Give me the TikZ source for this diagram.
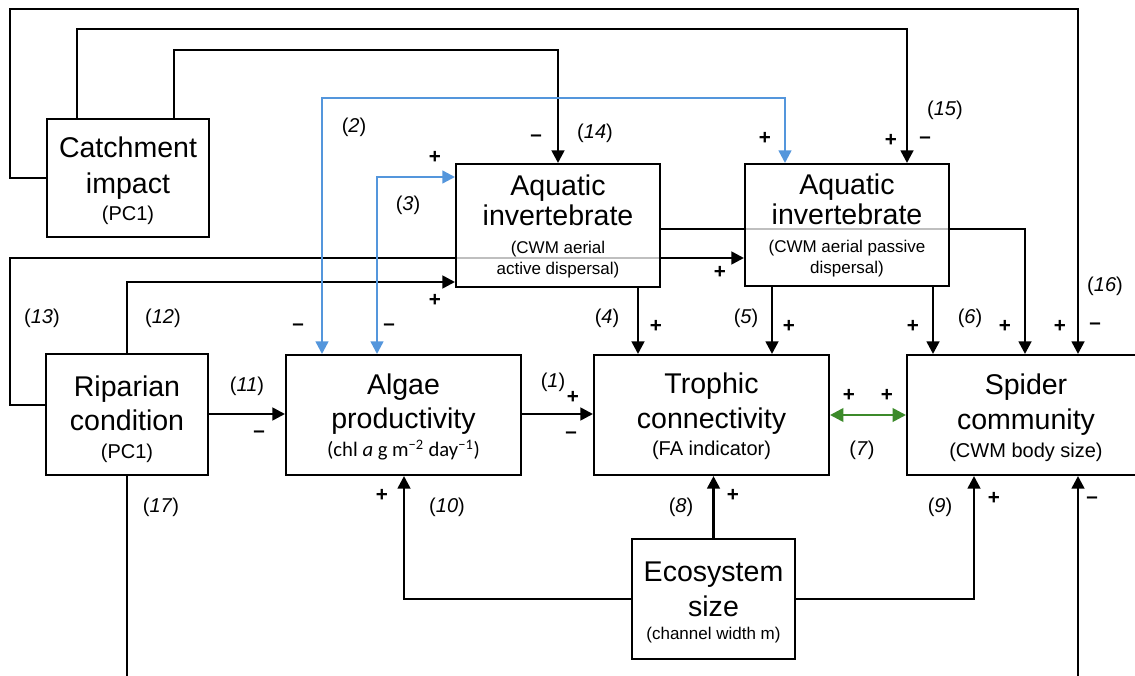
\documentclass[tikz,border=0pt]{standalone}
\usepackage{fontspec}
\setmainfont{Liberation Sans}
\newfontfamily\carl{Carlito}
\usetikzlibrary{arrows.meta,fit}
\pgfdeclarelayer{bg}
\pgfsetlayers{bg,main}
\definecolor{lblue}{RGB}{84,150,220}
\definecolor{lgreen}{RGB}{60,138,42}
\begin{document}
\begin{tikzpicture}[x=0.75pt,y=-0.75pt,
  box/.style={draw, line width=1.5pt, fill=white, fill opacity=0.75, text opacity=1, inner sep=0pt},
  tbig/.style={anchor=base, inner sep=0pt, font=\fontsize{21.4}{25}\selectfont},
  tsub/.style={anchor=base, inner sep=0pt, font=\fontsize{15}{18}\selectfont},
  tsml/.style={anchor=base, inner sep=0pt, font=\fontsize{12.75}{15}\selectfont},
  lab/.style={inner sep=0pt, font=\fontsize{15}{18}\selectfont},
  sgn/.style={inner sep=0pt, font=\fontsize{15.5}{18}\selectfont\bfseries},
  arr/.style={line width=2pt, -{Triangle[length=9.5pt,width=9.5pt]}},
  barr/.style={line width=1.8pt, draw=lblue, {Triangle[length=9.5pt,width=9.5pt]}-{Triangle[length=9.5pt,width=9.5pt]}},
  garr/.style={line width=2pt, draw=lgreen, {Triangle[length=10pt,width=10pt]}-{Triangle[length=10pt,width=10pt]}}
]
\useasboundingbox (0,0) rectangle (1135,675);

% boxes
\node[box, fit={(47,119) (209,237)}] (catch) {};
\node[box, fit={(456,164) (660,287)}] (aq1) {};
\node[box, fit={(745,164) (949,286)}] (aq2) {};
\node[box, fit={(46,354) (208,475)}] (rip) {};
\node[box, fit={(286,355) (521,475)}] (alg) {};
\node[box, fit={(594,355) (829,475)}] (tro) {};
\node[box, fit={(907,355) (1145,475)}] (spi) {};
\node[box, fit={(632,539) (795,659)}] (eco) {};

% texts
\node[tbig] (catch1) at (128,157) {Catchment};
\node[tbig] (catch2) at (128,193) {impact};
\node[tsub] (catch3) at (128,220) {(PC1)};
\node[tbig] (aq1a) at (558,195) {Aquatic};
\node[tbig] (aq1b) at (558,225) {invertebrate};
\node[tsml] (aq1c) at (558,253) {(CWM aerial};
\node[tsml] (aq1d) at (558,274) {active dispersal)};
\node[tbig] (aq2a) at (847,194) {Aquatic};
\node[tbig] (aq2b) at (847,224) {invertebrate};
\node[tsml] (aq2c) at (847,252) {(CWM aerial passive};
\node[tsml] (aq2d) at (847,273) {dispersal)};
\node[tbig] (rip1) at (127,396) {Riparian};
\node[tbig] (rip2) at (127,430) {condition};
\node[tsub] (rip3) at (127,458) {(PC1)};
\node[tbig] (alg1) at (403.5,394) {Algae};
\node[tbig] (alg2) at (403.5,428) {productivity};
\node[anchor=base, inner sep=0pt, font=\carl\fontsize{15.5}{18}\selectfont] (alg3) at (403.5,456) {(chl \textit{a} g m\textsuperscript{−2} day\textsuperscript{−1})};
\node[tbig] (tro1) at (711.5,393) {Trophic};
\node[tbig] (tro2) at (711.5,428) {connectivity};
\node[tsub] (tro3) at (711.5,455) {(FA indicator)};
\node[tbig] (spi1) at (1026,394) {Spider};
\node[tbig] (spi2) at (1026,429) {community};
\node[tsub] (spi3) at (1026,457) {(CWM body size)};
\node[tbig] (eco1) at (713.5,581) {Ecosystem};
\node[tbig] (eco2) at (713.5,616) {size};
\node[tsml] (eco3) at (713.5,639) {(channel width m)};

% lines passing behind the aquatic boxes
\begin{pgfonlayer}{bg}
\draw[arr] (rip.west |- 0,405) -| (10,258) -- (aq2.west |- 0,258);
\draw[arr] (aq1.east |- 0,229) -| (spi.north -| 1025,0);
\end{pgfonlayer}

% black connectors
\draw[arr] (catch.west) -| (10,9) -| (spi.north -| 1078,0);
\draw[arr] (catch.north -| 77,0) |- (907,29) -- (aq2.north -| 907,0);
\draw[arr] (catch.north -| 174,0) |- (558,50) -- (aq1.north);
\draw[arr] (rip.north) |- (aq1.west |- 0,282);
\draw[arr] (rip.east |- 0,414) -- (alg.west |- 0,414);
\draw[arr] (alg.east |- 0,414) -- (tro.west |- 0,414);
\draw[arr] (aq1.south -| 638,0) -- (tro.north -| 638,0);
\draw[arr] (aq2.south -| 772,0) -- (tro.north -| 772,0);
\draw[arr] (aq2.south -| 933,0) -- (spi.north -| 933,0);
\draw[arr] (eco.north) -- (tro.south -| eco.north);
\draw[arr] (eco.east) -| (spi.south -| 974,0);
\draw[arr] (eco.west) -| (alg.south -| 404,0);
\begin{scope}
\clip (0,0) rectangle (1135,675);
\draw[arr] (rip.south) -- (127,700) -| (spi.south -| 1078,0);
\end{scope}

% blue connectors
\draw[barr] (alg.north -| 322,0) |- (785,98) -- (aq2.north -| 785,0);
\draw[barr] (alg.north -| 377,0) |- (aq1.west |- 0,177);

% green connector
\draw[garr] (tro.east |- 0,415) -- (spi.west |- 0,415);

% path labels
\node[lab] (l2) at (354,127) {(\textit{2})};
\node[lab] (l3) at (408,205) {(\textit{3})};
\node[lab] (l14) at (595,133) {(\textit{14})};
\node[lab] (l15) at (945,110) {(\textit{15})};
\node[lab] (l16) at (1105,286) {(\textit{16})};
\node[lab] (l13) at (42,318) {(\textit{13})};
\node[lab] (l12) at (163,318) {(\textit{12})};
\node[lab] (l11) at (247,386) {(\textit{11})};
\node[lab] (l1) at (553,382) {(\textit{1})};
\node[lab] (l4) at (607,318) {(\textit{4})};
\node[lab] (l5) at (746,318) {(\textit{5})};
\node[lab] (l6) at (970,318) {(\textit{6})};
\node[lab] (l7) at (862,450) {(\textit{7})};
\node[lab] (l8) at (681,507) {(\textit{8})};
\node[lab] (l9) at (940,507) {(\textit{9})};
\node[lab] (l10) at (447,507) {(\textit{10})};
\node[lab] (l17) at (161,507) {(\textit{17})};

% signs
\node[sgn] (s14) at (536,138) {–};
\node[sgn] (s2b) at (765,138) {+};
\node[sgn] (s15a) at (891,140) {+};
\node[sgn] (s15b) at (925,140) {–};
\node[sgn] (s3b) at (435,157) {+};
\node[sgn] (s12) at (435,300) {+};
\node[sgn] (s13) at (720,272) {+};
\node[sgn] (s2a) at (298,327) {–};
\node[sgn] (s3a) at (389,327) {–};
\node[sgn] (s4) at (656,326) {+};
\node[sgn] (s5) at (789,326) {+};
\node[sgn] (s6a) at (913,326) {+};
\node[sgn] (s6b) at (1005,326) {+};
\node[sgn] (s16a) at (1060,326) {+};
\node[sgn] (s16b) at (1095,326) {–};
\node[sgn] (s11) at (259,434) {–};
\node[sgn] (s1a) at (573,397) {+};
\node[sgn] (s1b) at (571,435) {–};
\node[sgn] (s7a) at (849,395) {+};
\node[sgn] (s7b) at (887,395) {+};
\node[sgn] (s10) at (382,495) {+};
\node[sgn] (s8) at (733,495) {+};
\node[sgn] (s9) at (994,498) {+};
\node[sgn] (s17) at (1092,500) {–};
\end{tikzpicture}
\end{document}
